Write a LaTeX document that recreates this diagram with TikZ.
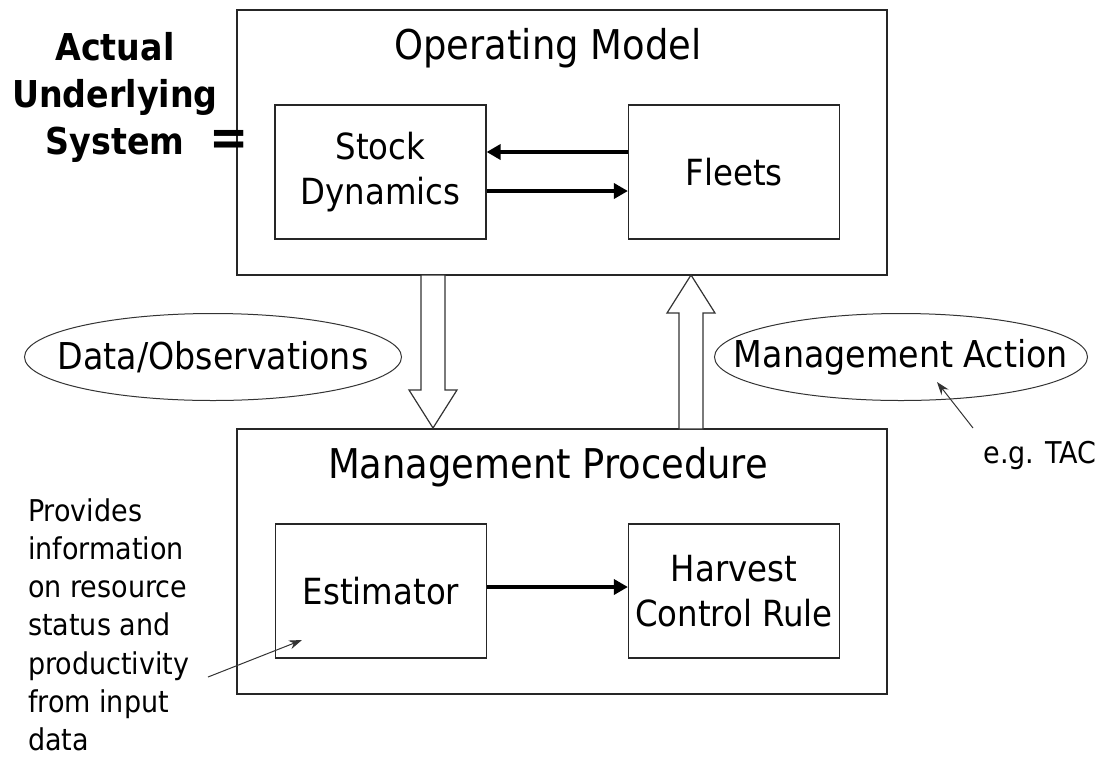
\documentclass[tikz,border=0pt]{standalone}
\usepackage{fontspec}
\setmainfont{DejaVu Sans Condensed}
\usepackage{tikz}
\usetikzlibrary{arrows.meta,shapes.geometric}

\tikzset{
  outerbox/.style={draw=black!85, line width=1.2pt, minimum width=650pt, minimum height=265pt, inner sep=0pt},
  innerbox/.style={draw=black!85, line width=1.2pt, minimum width=211pt, minimum height=134pt, inner sep=0pt, align=center, font=\fontsize{36}{45}\selectfont},
  title/.style={anchor=base, font=\fontsize{41}{48}\selectfont},
  bubble/.style={draw=black!80, ellipse, line width=1pt, minimum height=87pt, inner sep=0pt,
    label={[font=\fontsize{37}{44}\selectfont]center:#1}},
  flow/.style={-{Triangle[length=14pt,width=15pt]}, line width=4pt},
  pointer/.style={-{Stealth[length=13pt,width=9pt]}, line width=1pt, black!80},
  hollow/.style={draw=black!80, fill=white, line width=1.2pt, line join=miter},
  note/.style={font=\fontsize{30}{38.3}\selectfont, inner sep=0pt}
}

\begin{document}
\begin{tikzpicture}[x=1pt, y=-1pt]
\useasboundingbox (0,0) rectangle (1108,756);

% operating model
\node[outerbox] (om) at (562,142.5) {};
\node[title] (omtitle) at (548,59) {Operating Model};
\node[innerbox] (stock) at (380.5,172) {Stock\\Dynamics};
\node[innerbox] (fleets) at (734,172) {Fleets};
\draw[flow] ([yshift=20pt]fleets.west) -- ([yshift=20pt]stock.east);
\draw[flow] ([yshift=-19pt]stock.east) -- ([yshift=-19pt]fleets.west);

% management procedure
\node[outerbox] (mp) at (562,561.5) {};
\node[title] (mptitle) at (548,478) {Management Procedure};
\node[innerbox] (est) at (381,591) {Estimator};
\node[innerbox] (hcr) at (734,591) {Harvest\\Control Rule};
\draw[flow] ([yshift=4pt]est.east) -- ([yshift=4pt]hcr.west);

% block arrows between the two
\draw[hollow] (421,275) -- (421,390) -- (409,390) -- (433,428) -- (457,390) -- (445,390) -- (445,275) -- cycle;
\draw[hollow] (679,429) -- (679,313) -- (667,313) -- (691,275) -- (715,313) -- (703,313) -- (703,429) -- cycle;

\node[bubble=Data/Observations, minimum width=377pt] (data) at (213,357) {};
\node[bubble=Management Action, minimum width=373pt] (action) at (901,357) {};

% left hand label
\node[anchor=north, align=center, inner sep=0pt, font=\bfseries\fontsize{37}{47}\selectfont] (actual) at (115,32) {Actual\\Underlying\\System};
\node[font=\bfseries\fontsize{52}{60}\selectfont, inner sep=0pt] (equals) at (229,143) {=};

% notes
\node[note] (tac) at (1040,455) {e.g. TAC};
\coordinate (tacfoot) at (973,428);
\draw[pointer] (tacfoot) -- (937,382);

\node[note, anchor=north west, align=left] (provides) at (28,498) {Provides\\information\\on resource\\status and\\productivity\\from input\\data};
\coordinate (estfoot) at (208,677);
\draw[pointer] (estfoot) -- (302,640);
\end{tikzpicture}
\end{document}
